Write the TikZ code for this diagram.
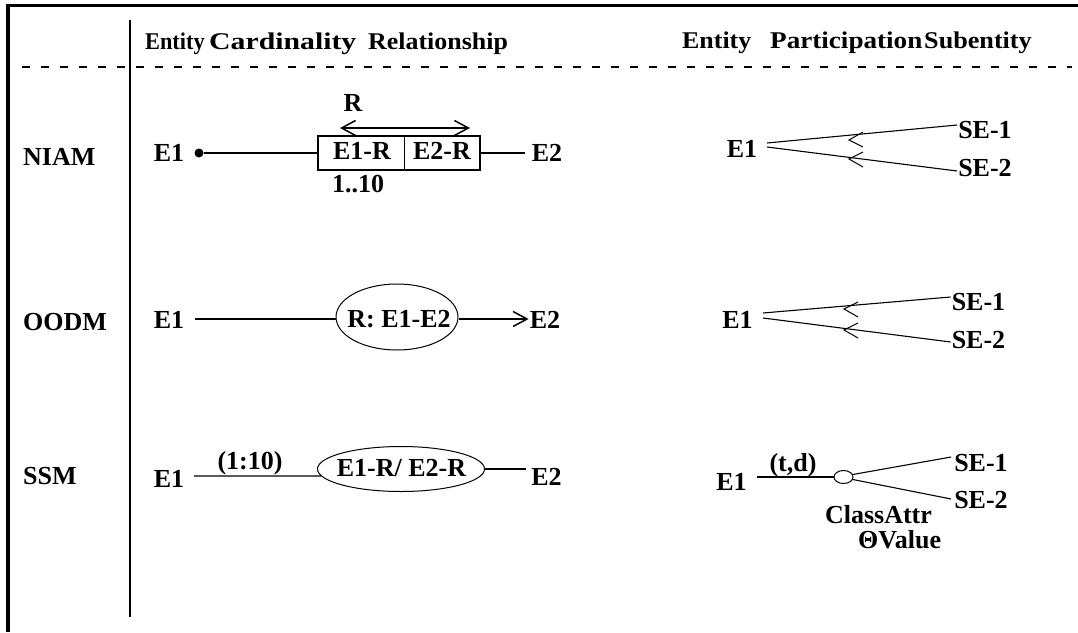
\documentclass[tikz,border=0pt]{standalone}
\usepackage{fontspec}
\setmainfont{Liberation Serif}
\usetikzlibrary{arrows.meta,shapes.geometric}
\tikzset{mybarb/.tip={Straight Barb[length=14pt,width=15pt,line width=1.5pt]}}
\begin{document}
\begin{tikzpicture}[x=1pt,y=-1pt,
  lbl/.style={font=\fontsize{26}{29}\selectfont\bfseries,inner sep=0pt,text height=17.6pt,text depth=0pt},
  hdr/.style={font=\fontsize{24}{27}\selectfont\bfseries,inner sep=0pt,anchor=base west},
  conn/.style={line width=1.1pt},
  chev/.style={line width=1pt},
  ell/.style={draw,ellipse,inner sep=0pt,line width=1pt}
]
\useasboundingbox (0,0) rectangle (1078,632);
% frame
\draw[line width=3.5pt] (8,632) -- (8,5.5) -- (1078,5.5);
\draw[line width=1.5pt] (130,20) -- (130,617);
\draw[line width=1.2pt,dash pattern=on 8pt off 11pt] (22,67) -- (1072,67);
% headers
\node[hdr] (h1) at (145,49) {\scalebox{0.93}[1]{Entity}};
\node[hdr] (h2) at (209,49) {\scalebox{1.24}[1]{Cardinality}};
\node[hdr] (h3) at (368,49) {\scalebox{1.08}[1]{Relationship}};
\node[hdr] (h4) at (682,48) {\scalebox{1.08}[1]{Entity}};
\node[hdr] (h5) at (770,48) {\scalebox{1.13}[1]{Participation}};
\node[hdr] (h6) at (924,48) {\scalebox{1.09}[1]{Subentity}};
% row labels
\node[lbl,anchor=west] (niam) at (23,157) {NIAM};
\node[lbl,anchor=west] (oodm) at (23,322) {OODM};
\node[lbl,anchor=west] (ssm) at (23,476) {SSM};

% ===== NIAM relationship
\node[lbl] (n-e1) at (169,153) {E1};
\node[circle,fill,inner sep=0pt,minimum size=9pt] (n-dot) at (199,153) {};
\node[draw,line width=2pt,minimum width=162pt,minimum height=34pt,inner sep=0pt] (n-box) at (399,153) {};
\draw[line width=1pt] ([xshift=87pt]n-box.north west) -- ([xshift=87pt]n-box.south west);
\node[lbl] (n-e1r) at (362,151) {E1-R};
\node[lbl] (n-e2r) at (442,151) {E2-R};
\node[lbl] (n-e2) at (547,153) {E2};
\node[lbl] (n-r) at (353,103) {R};
\node[lbl] (n-card) at (358,184) {1..10};
\coordinate (n-ra) at (340,128);
\coordinate (n-rb) at (470,128);
\draw[line width=1.8pt,mybarb-mybarb] (n-ra) -- (n-rb);
\draw[conn] (n-dot) -- (n-box.west);
\draw[conn] (n-box.east) -- ([xshift=-7pt]n-e2.west);

% ===== NIAM participation
\node[lbl] (np-e1) at (742,149) {E1};
\node[lbl] (np-se1) at (985,130) {SE-1};
\node[lbl] (np-se2) at (985,168) {SE-2};
\coordinate (np-a1) at (767,143);
\coordinate (np-a2) at (767,147);
\draw[conn] (np-a1) -- ([xshift=-1pt,yshift=5pt]np-se1.west);
\draw[conn] (np-a2) -- ([xshift=-1pt,yshift=-3pt]np-se2.west);
\draw[chev] (863,132) -- (849,140) -- (863,147);
\draw[chev] (863,152) -- (849,159) -- (863,167);

% ===== OODM relationship
\node[lbl] (o-e1) at (169,320) {E1};
\node[ell,minimum width=122pt,minimum height=66pt] (o-rel) at (397,317) {};
\node[lbl] (o-relt) at (399,319) {R: E1-E2};
\node[lbl] (o-e2) at (545,320) {E2};
\coordinate (o-a) at (195,319);
\draw[conn] (o-a) -- (o-rel.west |- o-a);
\draw[conn,-mybarb] (o-rel.east |- o-a) -- ([xshift=-1pt]o-e2.west |- o-a);

% ===== OODM participation
\node[lbl] (op-e1) at (737.5,320) {E1};
\node[lbl] (op-se1) at (978.5,302) {SE-1};
\node[lbl] (op-se2) at (978.5,340) {SE-2};
\coordinate (op-a1) at (763,313);
\coordinate (op-a2) at (763,318);
\draw[conn] (op-a1) -- ([xshift=-1pt,yshift=5pt]op-se1.west);
\draw[conn] (op-a2) -- ([xshift=-1pt,yshift=-2pt]op-se2.west);
\draw[chev] (858,302) -- (844,309) -- (858,317);
\draw[chev] (858,323) -- (844,330) -- (858,338);

% ===== SSM relationship
\node[lbl] (s-e1) at (169,479) {E1};
\node[ell,minimum width=167pt,minimum height=45pt] (s-rel) at (401,469) {};
\node[lbl] (s-relt) at (401.5,468) {E1-R/ E2-R};
\node[lbl] (s-e2) at (546.5,477) {E2};
\node[lbl] (s-card) at (250,461) {(1:10)};
\coordinate (s-a) at (194,476);
\draw[conn] (s-a) -- (s-rel.185);
\draw[conn] (s-rel.east) -- ([xshift=-5pt]s-rel.east -| s-e2.west);

% ===== SSM participation
\node[lbl] (sp-e1) at (731.5,482) {E1};
\node[ell,minimum width=19pt,minimum height=13pt] (sp-c) at (843.5,477) {};
\node[lbl] (sp-td) at (793,463) {(t,d)};
\node[lbl] (sp-se1) at (981,463) {SE-1};
\node[lbl] (sp-se2) at (981,500) {SE-2};
\node[lbl] (sp-ca) at (878.5,514.5) {ClassAttr};
\node[lbl,anchor=west] (sp-val) at (858,540) {ΘValue};
\coordinate (sp-a) at (757,477);
\draw[conn] (sp-a) -- (sp-c.west);
\draw[conn] (sp-c.15) -- ([xshift=-3pt,yshift=6pt]sp-se1.west);
\draw[conn] (sp-c.-15) -- ([xshift=-3pt,yshift=1pt]sp-se2.west);
\end{tikzpicture}
\end{document}
